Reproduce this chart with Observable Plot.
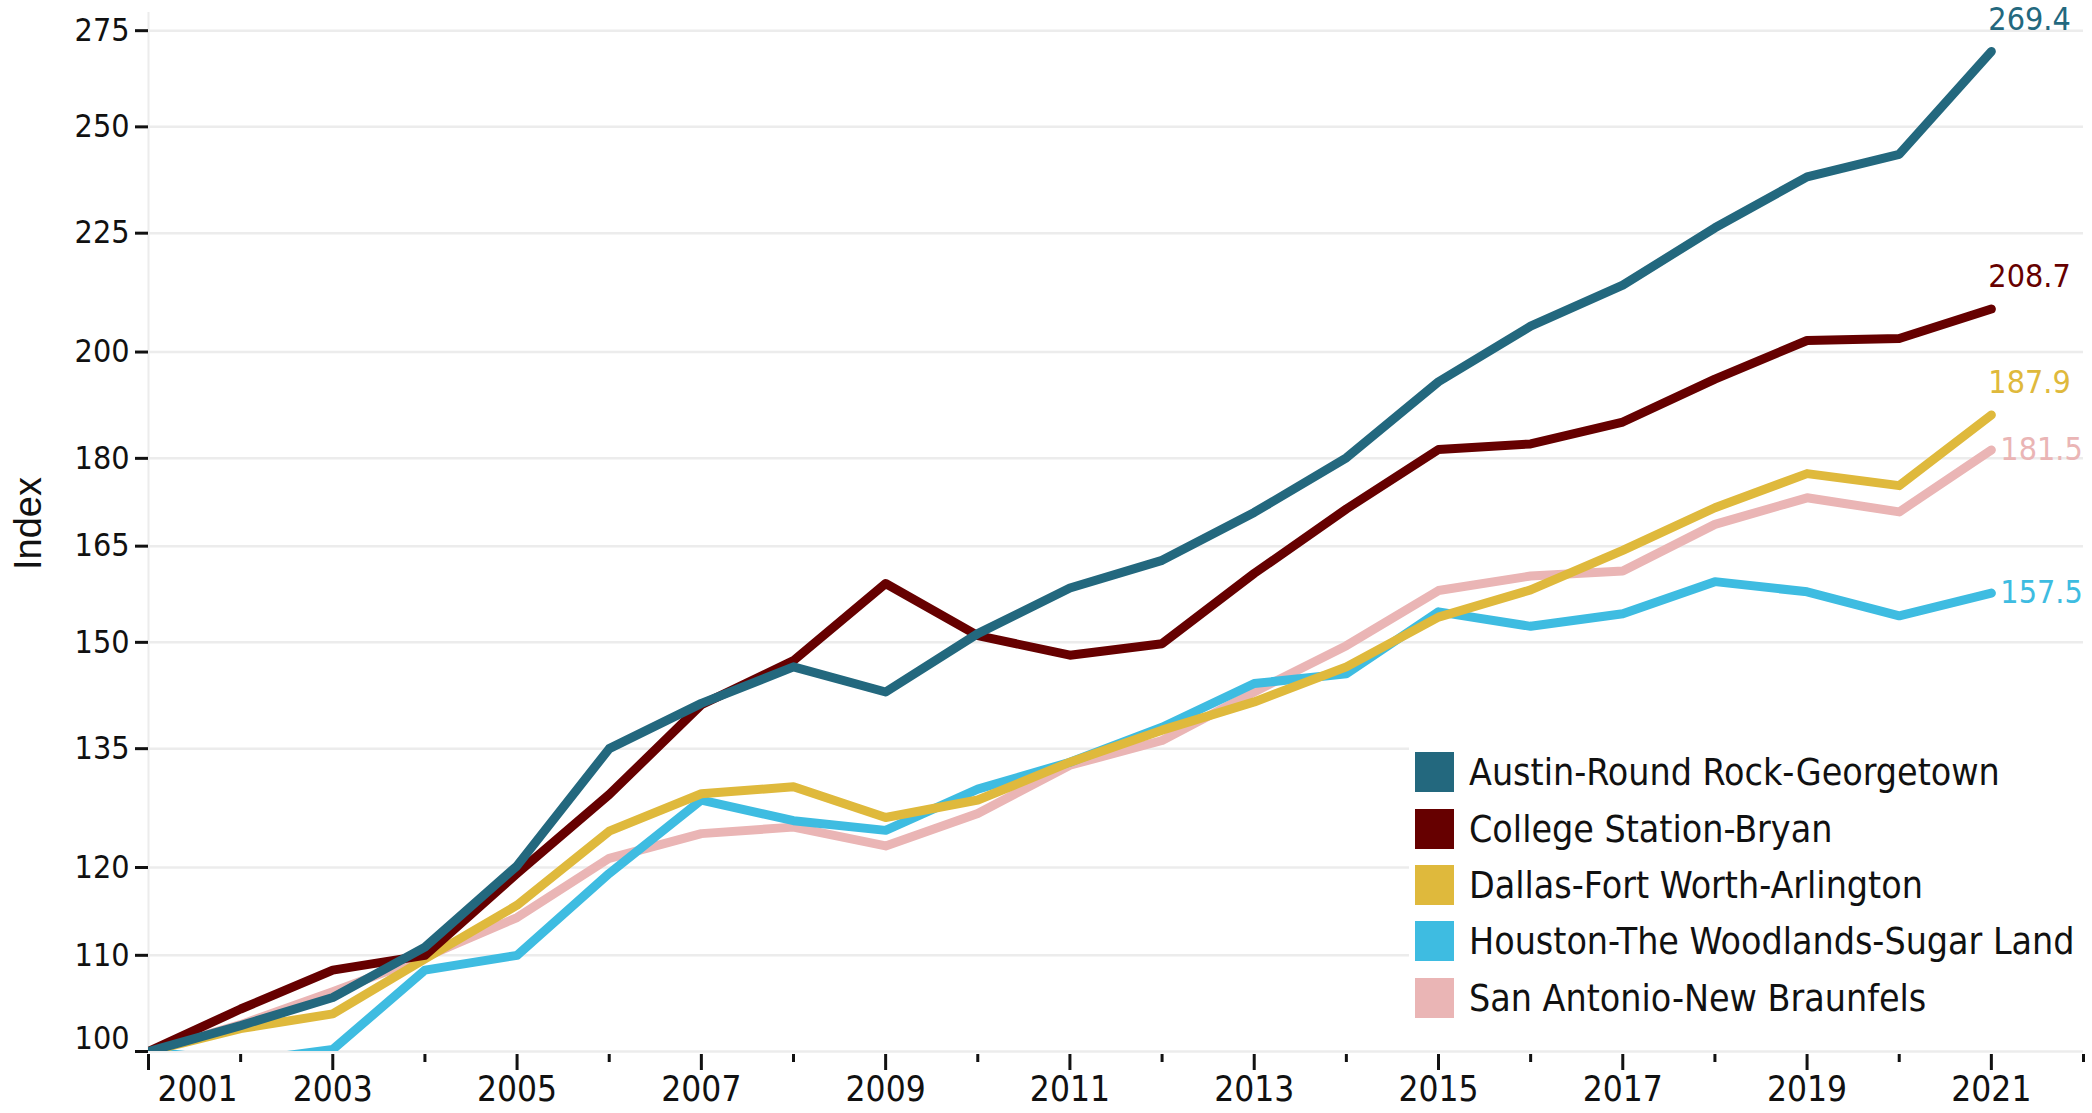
<!DOCTYPE html>
<html>
<head>
<meta charset="utf-8">
<script src="https://cdn.jsdelivr.net/npm/d3@7"></script>
<script src="https://cdn.jsdelivr.net/npm/@observablehq/plot@0.6"></script>
<style>
  html, body { margin: 0; padding: 0; background: #fff; }
  #wrap { position: relative; width: 2092px; height: 1113px; overflow: hidden; }
  #wrap svg { display: block; }
  #legend {
    position: absolute; left: 1409px; top: 744px; width: 674px; height: 280px;
    background: #fff; font-family: "DejaVu Sans Condensed", "DejaVu Sans", sans-serif;
    font-size: 37.2px; color: #111; box-sizing: border-box;
  }
  .row { display: flex; align-items: center; height: 56.4px; }
  .sw { width: 39px; height: 40px; margin-left: 6px; margin-right: 15px; flex: none; }
</style>
</head>
<body>
<div id="wrap"></div>
<script>
const years = [2001,2002,2003,2004,2005,2006,2007,2008,2009,2010,2011,2012,2013,2014,2015,2016,2017,2018,2019,2020,2021];

const austin         = [100,102.6,105.5,110.9,120.2,135.0,141.2,146.4,142.8,151.3,158.3,162.7,170.6,180.1,194.2,205.2,213.7,226.2,237.9,243.3,269.4];
const collegeStation = [100,104.3,108.4,110.0,119.3,129.0,141.0,147.3,159.0,151.0,148.1,149.8,160.6,171.2,181.6,182.6,186.6,194.7,202.3,202.7,208.7];
const dallas         = [100,102.3,103.8,109.6,115.6,124.4,129.1,130.0,126.1,128.3,133.2,137.5,141.4,146.4,153.8,158.0,164.3,171.4,177.3,175.2,187.9];
const houston        = [100,99.0,100.2,108.4,110.0,119.3,128.3,125.7,124.5,129.7,133.2,137.9,144.0,145.4,154.6,152.4,154.3,159.3,157.7,154.0,157.5];
const sanAntonio     = [100,102.7,106.1,109.8,114.2,121.1,124.1,124.9,122.6,126.6,132.8,136.1,142.8,149.5,157.9,160.2,161.0,168.6,173.1,170.7,181.5];

const seriesNames  = ["Austin-Round Rock-Georgetown","College Station-Bryan","Dallas-Fort Worth-Arlington","Houston-The Woodlands-Sugar Land","San Antonio-New Braunfels"];
const seriesValues = [austin, collegeStation, dallas, houston, sanAntonio];
const seriesColors = ["#23687e","#660000","#dfb93c","#3ebce1","#eab5b5"];
const labelAbove   = ["Austin-Round Rock-Georgetown","College Station-Bryan","Dallas-Fort Worth-Arlington"];

const yTicks = [100,110,120,135,150,165,180,200,225,250,275];
const xMajorTicks = [2001,2003,2005,2007,2009,2011,2013,2015,2017,2019,2021];
const xMinorTicks = [2002,2004,2006,2008,2010,2012,2014,2016,2018,2020,2022];
const yLabel = "Index";

// draw order: last legend entry first, Austin on top
const data = [];
for (let i = seriesNames.length - 1; i >= 0; i--) {
  years.forEach((yr, j) => data.push({series: seriesNames[i], year: yr, value: seriesValues[i][j]}));
}
const last = data.filter(d => d.year === years[years.length - 1]);

const FONT = "DejaVu Sans Condensed, DejaVu Sans, sans-serif";

const chart = Plot.plot({
  width: 2092,
  height: 1113,
  marginLeft: 148,
  marginRight: 9,
  marginTop: 12,
  marginBottom: 62,
  style: {fontFamily: FONT, background: "#fff", overflow: "visible"},
  x: {type: "linear", domain: [2001, 2022]},
  y: {type: "log", domain: [100, 280]},
  color: {domain: seriesNames, range: seriesColors},
  marks: [
    Plot.gridY(yTicks, {stroke: "#ececec", strokeOpacity: 1, strokeWidth: 2.5}),
    Plot.ruleX([2001], {stroke: "#ececec", strokeWidth: 2}),
    Plot.axisY(yTicks, {
      anchor: "left", tickSize: 13, tickPadding: 6, fontSize: 32, strokeWidth: 3,
      color: "#111", label: null, tickFormat: d => d === 100 ? "" : String(d)
    }),
    Plot.text([100], {
      frameAnchor: "left", y: d => d, text: d => String(d), textAnchor: "end",
      lineAnchor: "bottom", dx: -19, dy: -3, fontSize: 32, fill: "#111"
    }),
    Plot.axisX(xMajorTicks, {
      anchor: "bottom", tickSize: 16, tickPadding: 6, fontSize: 35, strokeWidth: 3, dy: 3,
      color: "#111", label: null, tickFormat: d => d === 2001 ? "" : String(d)
    }),
    Plot.axisX(xMinorTicks, {
      anchor: "bottom", tickSize: 8, strokeWidth: 3, dy: 3,
      color: "#111", label: null, tickFormat: () => ""
    }),
    Plot.text([2001], {
      x: d => d, frameAnchor: "bottom", text: d => String(d), textAnchor: "start",
      lineAnchor: "top", dx: 9, dy: 25, fontSize: 35, fill: "#111"
    }),
    Plot.text([yLabel], {
      frameAnchor: "left", text: d => d, rotate: -90, dx: -120, dy: 38,
      fontSize: 38, fontFamily: "Liberation Sans, Arial, sans-serif", fill: "#111"
    }),
    Plot.line(data, {
      x: "year", y: "value", z: "series", stroke: "series", strokeWidth: 9,
      strokeLinecap: "round", strokeLinejoin: "round", clip: true
    }),
    Plot.text(last.filter(d => labelAbove.includes(d.series)), {
      x: "year", y: "value", text: d => d.value.toFixed(1), fill: "series",
      textAnchor: "start", dx: -3, dy: -32, fontSize: 32, letterSpacing: "1px"
    }),
    Plot.text(last.filter(d => !labelAbove.includes(d.series)), {
      x: "year", y: "value", text: d => d.value.toFixed(1), fill: "series",
      textAnchor: "start", dx: 9, dy: 0, fontSize: 32
    })
  ]
});

const wrap = document.getElementById("wrap");
wrap.appendChild(chart);

const legend = document.createElement("div");
legend.id = "legend";
seriesNames.forEach((name, i) => {
  const row = document.createElement("div");
  row.className = "row";
  const sw = document.createElement("div");
  sw.className = "sw";
  sw.style.background = seriesColors[i];
  const tx = document.createElement("span");
  tx.textContent = name;
  row.appendChild(sw);
  row.appendChild(tx);
  legend.appendChild(row);
});
wrap.appendChild(legend);
</script>
</body>
</html>
